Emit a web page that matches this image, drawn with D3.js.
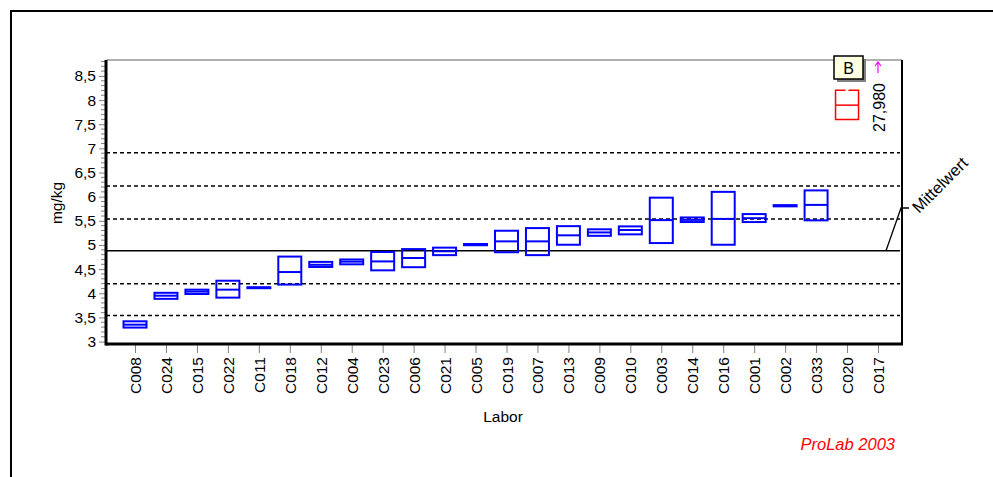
<!DOCTYPE html>
<html>
<head>
<meta charset="utf-8">
<script src="https://cdn.jsdelivr.net/npm/d3@7"></script>
<style>
  body { margin: 0; background: #fff; }
  svg { display: block; font-family: Arial, "Liberation Sans", sans-serif; }
</style>
</head>
<body>
<script>
const width = 993;
const height = 477;
const fs = 15.5;

// labs, sorted by median
const labs = ["C008","C024","C015","C022","C011","C018","C012","C004","C023","C006","C021","C005",
              "C019","C007","C013","C009","C010","C003","C014","C016","C001","C002","C033","C020","C017"];
const upper  = [3.42,4.01,4.075,4.26,4.125,4.76,4.65,4.70,4.855,4.915,4.945,5.02,
                5.295,5.35,5.39,5.325,5.385,5.98,5.57,6.10,5.64,5.825,6.13,8.205,null];
const median = [3.35,3.95,4.035,4.075,4.115,4.44,4.59,4.655,4.66,4.73,4.87,5.007,
                5.075,5.075,5.20,5.26,5.31,5.515,5.52,5.54,5.555,5.81,5.83,7.895,27.98];
const lower  = [3.29,3.885,3.985,3.91,4.105,4.18,4.545,4.60,4.475,4.54,4.79,4.995,
                4.85,4.79,5.005,5.19,5.22,5.04,5.475,5.005,5.475,5.80,5.51,7.60,null];
const outliers = ["C020"];          // red boxes
const offScale = ["C017"];          // value above the axis -> arrow

const meanValue = 4.88;
const limits = [3.54, 4.20, 5.54, 6.22, 6.91];
const yTicks = [3,3.5,4,4.5,5,5.5,6,6.5,7,7.5,8,8.5];

const svg = d3.select("body").append("svg").attr("width", width).attr("height", height);

// outer frame (runs past the window)
svg.append("path").attr("d", "M11,480 L11,11 L1000,11")
   .attr("fill","none").attr("stroke","#000").attr("stroke-width",2);

const plot = {left:106, right:902, top:60, bottom:344};

const x = d3.scalePoint().domain(labs).range([135, 878]);
const y = d3.scaleLinear().domain([2.95, 8.83]).range([plot.bottom, plot.top]);
const fmt = v => String(v).replace(".", ",");

// minor ticks
const minor = d3.range(30, 89).map(v => v / 10).filter(v => !yTicks.includes(v));
svg.append("g").selectAll("line").data(minor).enter().append("line")
   .attr("x1", plot.left - 5).attr("x2", plot.left)
   .attr("y1", d => y(d)).attr("y2", d => y(d))
   .attr("stroke","#808080").attr("stroke-width",1);

// y axis
const yAxis = svg.append("g").attr("transform", `translate(${plot.left},0)`)
   .call(d3.axisLeft(y).tickValues(yTicks).tickFormat(fmt).tickSize(7).tickPadding(3));
yAxis.select(".domain").remove();
yAxis.selectAll(".tick line").attr("stroke","#808080");
yAxis.selectAll("text").attr("font-size",fs).attr("fill","#000").attr("font-family","Arial, 'Liberation Sans', sans-serif");

// x axis
const xAxis = svg.append("g").attr("transform", `translate(0,${plot.bottom})`)
   .call(d3.axisBottom(x).tickSize(9).tickPadding(0));
xAxis.select(".domain").remove();
xAxis.selectAll(".tick line").attr("stroke","#808080");
xAxis.selectAll("text")
   .attr("font-size",fs).attr("fill","#000").attr("font-family","Arial, 'Liberation Sans', sans-serif")
   .attr("text-anchor","end").attr("dy",null).attr("y",0)
   .attr("transform","translate(5.5,13) rotate(-90)");

// reference lines
svg.append("g").selectAll("line").data(limits).enter().append("line")
   .attr("x1", plot.left).attr("x2", plot.right - 2)
   .attr("y1", d => y(d)).attr("y2", d => y(d))
   .attr("stroke","#000").attr("stroke-width",1.5).attr("stroke-dasharray","4,3");
svg.append("line")
   .attr("x1", plot.left).attr("x2", plot.right - 2)
   .attr("y1", y(meanValue)).attr("y2", y(meanValue))
   .attr("stroke","#000").attr("stroke-width",1.5);

// frame of the plot
svg.append("line").attr("x1",plot.left).attr("x2",plot.right).attr("y1",plot.top).attr("y2",plot.top)
   .attr("stroke","#606060").attr("stroke-width",1);
svg.append("line").attr("x1",plot.right).attr("x2",plot.right).attr("y1",plot.top).attr("y2",plot.bottom)
   .attr("stroke","#000").attr("stroke-width",2);
svg.append("line").attr("x1",plot.left).attr("x2",plot.left).attr("y1",plot.top).attr("y2",plot.bottom + 1.5)
   .attr("stroke","#000").attr("stroke-width",3);
svg.append("line").attr("x1",plot.left).attr("x2",plot.right + 1).attr("y1",plot.bottom).attr("y2",plot.bottom)
   .attr("stroke","#000").attr("stroke-width",3);

// boxes
const rows = labs.map((lab, i) => ({lab, hi: upper[i], mid: median[i], lo: lower[i]}))
                 .filter(d => d.hi !== null);
const bw = 23;
const boxes = svg.append("g").selectAll("g").data(rows).enter().append("g");
boxes.each(function(d) {
  const g = d3.select(this);
  const col = outliers.includes(d.lab) ? "#ff0000" : "#0000ff";
  const sw = outliers.includes(d.lab) ? 1.5 : 2;
  const x0 = x(d.lab) - bw / 2;
  if (outliers.includes(d.lab)) {
    g.append("path")
     .attr("d", `M${x(d.lab)-1.5},${y(d.hi)} H${x0} V${y(d.lo)} H${x0+bw} V${y(d.hi)} H${x(d.lab)+1.5}`)
     .attr("fill","none").attr("stroke",col).attr("stroke-width",sw);
  } else {
    g.append("rect").attr("x", x0).attr("width", bw)
     .attr("y", y(d.hi)).attr("height", Math.max(0.5, y(d.lo) - y(d.hi)))
     .attr("fill","none").attr("stroke",col).attr("stroke-width",sw);
  }
  g.append("line").attr("x1", x0).attr("x2", x0 + bw)
   .attr("y1", y(d.mid)).attr("y2", y(d.mid))
   .attr("stroke",col).attr("stroke-width",sw);
});

// off scale value
offScale.forEach(lab => {
  const i = labs.indexOf(lab);
  const cx = x(lab);
  svg.append("path").attr("d", `M${cx},${plot.top+13} V${plot.top+2} M${cx-3},${plot.top+6} L${cx},${plot.top+2} L${cx+3},${plot.top+6}`)
     .attr("fill","none").attr("stroke","#ff00ff").attr("stroke-width",1.2);
  svg.append("text").attr("transform", `translate(${cx+6.5},${plot.top+23}) rotate(-90)`)
     .attr("text-anchor","end").attr("font-size",16).text(median[i].toFixed(3).replace(".", ","));
});

// "B" marker
const bx = 834, by = 56;
svg.append("rect").attr("x", bx+3).attr("y", by+3).attr("width", 29).attr("height", 23).attr("fill","#808080");
svg.append("rect").attr("x", bx).attr("y", by).attr("width", 29).attr("height", 23)
   .attr("fill","#ffffe1").attr("stroke","#000").attr("stroke-width",1.5);
svg.append("text").attr("x", bx+14.5).attr("y", by+17.5).attr("text-anchor","middle")
   .attr("font-size",16).text("B");

// Mittelwert label
const my = y(meanValue);
svg.append("path").attr("d", `M886,${my} L901,208 L909,208`)
   .attr("fill","none").attr("stroke","#000").attr("stroke-width",1.3);
svg.append("text").attr("transform","translate(919,214) rotate(-45)")
   .attr("font-size",16.5).text("Mittelwert");

// axis titles
svg.append("text").attr("transform", `translate(62,203) rotate(-90)`)
   .attr("text-anchor","middle").attr("font-size",fs).text("mg/kg");
svg.append("text").attr("x", 503).attr("y", 422).attr("text-anchor","middle")
   .attr("font-size",fs).text("Labor");
svg.append("text").attr("x", 895).attr("y", 450).attr("text-anchor","end")
   .attr("font-size",16.5).attr("font-style","italic").attr("fill","#ff0000").text("ProLab 2003");
</script>
</body>
</html>
